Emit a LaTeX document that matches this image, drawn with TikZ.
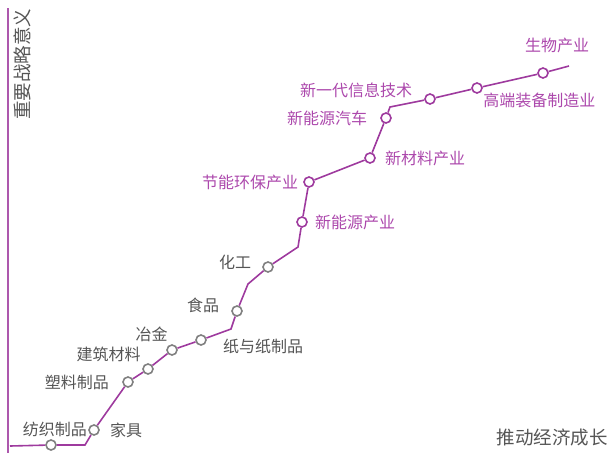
\documentclass[tikz,border=0pt]{standalone}
\usepackage{fontspec}
\newfontfamily\cjk{Noto Sans CJK SC}
\usetikzlibrary{calc, positioning}

\definecolor{routepurple}{RGB}{158,58,158}
\definecolor{labelpurple}{RGB}{172,72,172}
\definecolor{labelgray}{RGB}{85,85,85}
\definecolor{ringgray}{RGB}{128,128,128}

\tikzset{
    route/.style={draw=routepurple, line width=1.6pt},
    oldind/.style={circle, draw=ringgray, fill=white, line width=1.6pt, minimum size=10pt, inner sep=0pt},
    newind/.style={circle, draw=routepurple, fill=white, line width=1.6pt, minimum size=10pt, inner sep=0pt},
    oldlabel/.style={font=\cjk\fontsize{16}{18}\selectfont, text=labelgray, inner sep=2pt},
    newlabel/.style={font=\cjk\fontsize{16}{18}\selectfont, text=labelpurple, inner sep=2pt},
    axislabel/.style={font=\cjk\fontsize{18.5}{20}\selectfont, text=labelgray, inner sep=0pt}
}

\begin{document}
\begin{tikzpicture}[x=1pt, y=-1pt, node distance=4pt]
    \useasboundingbox (0,0) rectangle (611,453);

    % axis
    \coordinate (axis-top) at (8,8);
    \coordinate (axis-bottom) at (8,453);
    \draw[draw=routepurple!85, line width=1.6pt] (axis-top) -- (axis-bottom);
    \node[axislabel, rotate=90] (axis-y) at (22,64) {重要战略意义};
    \node[axislabel] (axis-x) at (552,438) {推动经济成长};

    % stations
    \node[oldind] (textile) at (51,445) {};
    \node[oldind] (furniture) at (94,430) {};
    \node[oldind] (plastics) at (128,382) {};
    \node[oldind] (building) at (148,369) {};
    \node[oldind] (metal) at (172,350) {};
    \node[oldind] (paper) at (201,340) {};
    \node[oldind] (food) at (237,311) {};
    \node[oldind] (chem) at (268,267) {};
    \node[newind] (newenergy) at (302,222) {};
    \node[newind] (green) at (309,182) {};
    \node[newind] (newmat) at (370,158) {};
    \node[newind] (ev) at (386,118) {};
    \node[newind] (it) at (430,99) {};
    \node[newind] (equip) at (477,88) {};
    \node[newind] (bio) at (543,73) {};

    % bends
    \coordinate (start) at (10,446);
    \coordinate (bend1) at (85,445);
    \coordinate (bend2) at (231,329);
    \coordinate (bend3) at (248,284);
    \coordinate (bend4) at (298,247);
    \coordinate (bend5) at (390,107);
    \coordinate (end) at (569,66);

    \draw[route] (start) -- (textile) -- (bend1) -- (furniture) -- (plastics)
        -- (building) -- (metal) -- (paper) -- (bend2) -- (food) -- (bend3)
        -- (chem) -- (bend4) -- (newenergy) -- (green) -- (newmat) -- (ev)
        -- (bend5) -- (it) -- (equip) -- (bio) -- (end);

    % labels
    \node[oldlabel, above=0pt of textile, xshift=4pt] (textile-l) {纺织制品};
    \node[oldlabel, right=8pt of furniture] (furniture-l) {家具};
    \node[oldlabel, left=11pt of plastics] (plastics-l) {塑料制品};
    \node[oldlabel, above left=1pt and 1pt of building] (building-l) {建筑材料};
    \node[oldlabel, above left=2pt and -2pt of metal] (metal-l) {冶金};
    \node[oldlabel, right=14pt of paper, yshift=-6pt] (paper-l) {纸与纸制品};
    \node[oldlabel, left=10pt of food, yshift=6pt] (food-l) {食品};
    \node[oldlabel, left=9pt of chem, yshift=5pt] (chem-l) {化工};
    \node[newlabel, right=5pt of newenergy] (newenergy-l) {新能源产业};
    \node[newlabel, left=3pt of green] (green-l) {节能环保产业};
    \node[newlabel, right=7pt of newmat] (newmat-l) {新材料产业};
    \node[newlabel, left=11pt of ev] (ev-l) {新能源汽车};
    \node[newlabel, left=10pt of it, yshift=9pt] (it-l) {新一代信息技术};
    \node[newlabel, below right=-1pt and 0pt of equip] (equip-l) {高端装备制造业};
    \node[newlabel, above=12pt of bio, xshift=14pt] (bio-l) {生物产业};
\end{tikzpicture}
\end{document}
